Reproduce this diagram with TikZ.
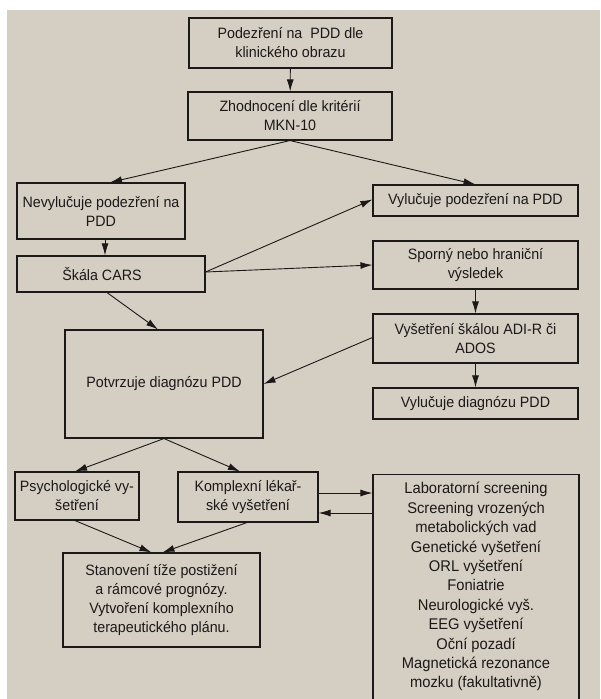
\documentclass[tikz,border=0pt]{standalone}
\usepackage{fontspec}
\setmainfont[FakeStretch=0.95]{Liberation Sans}
\usetikzlibrary{arrows.meta,calc}
\definecolor{paper}{RGB}{213,206,195}
\definecolor{ink}{RGB}{26,25,24}
\begin{document}
\begin{tikzpicture}[x=1pt,y=-1pt,
  box/.style={draw=ink, line width=1.1pt, align=center, inner sep=0pt,
    font=\fontsize{15}{19}\selectfont, text=ink},
  arr/.style={draw=ink, line width=0.9pt, -{Latex[length=12pt,width=7pt]}}]
\fill[white] (0,0) rectangle (600,699);
\fill[paper] (7,10) rectangle (600,699);
\useasboundingbox (0,0) rectangle (600,699);

\node[box, minimum width=203pt, minimum height=50pt] (b1) at (290.5,43)
  {Podezření na\ \ PDD dle\\klinického obrazu};
\node[box, minimum width=204pt, minimum height=48pt] (b2) at (290,116)
  {Zhodnocení dle kritérií\\MKN-10};
\node[box, minimum width=168pt, minimum height=56pt] (b3) at (101,211)
  {Nevylučuje podezření na\\PDD};
\node[box, minimum width=205pt, minimum height=31pt] (b4) at (475.5,200.5)
  {Vylučuje podezření na PDD};
\node[box, minimum width=188pt, minimum height=36pt] (b5) at (111,274)
  {Škála CARS\hspace*{18pt}};
\node[box, minimum width=205pt, minimum height=48pt] (b6) at (475.5,265)
  {Sporný nebo hraniční\\výsledek};
\node[box, minimum width=205pt, minimum height=49pt] (b7) at (475.5,338.5)
  {Vyšetření škálou ADI-R či\\ADOS};
\node[box, minimum width=205pt, minimum height=31pt] (b8) at (475.5,403.5)
  {Vylučuje diagnózu PDD};
\node[box, minimum width=198pt, minimum height=108pt] (b9) at (164,384)
  {Potvrzuje diagnózu PDD};
\node[box, minimum width=124pt, minimum height=48pt] (b10) at (77,496)
  {Psychologické vy-\\šetření};
\node[box, minimum width=140pt, minimum height=50pt] (b11) at (248,497)
  {Komplexní lékař-\\ské vyšetření};
\node[box, minimum width=206pt, inner ysep=8pt, anchor=north,
  font=\fontsize{15.5}{19.4}\selectfont] (b12) at (476,474)
  {Laboratorní screening\\Screening vrozených\\metabolických vad\\Genetické vyšetření\\ORL vyšetření\\Foniatrie\\Neurologické vyš.\\EEG vyšetření\\Oční pozadí\\Magnetická rezonance\\mozku (fakultativně)\\\rule{0pt}{30pt}};
\node[box, minimum width=197pt, minimum height=94pt] (b13) at (161.5,600)
  {Stanovení tíže postižení\\a rámcové prognózy.\\Vytvoření komplexního\\terapeutického plánu.};

\draw[arr] (b1) -- (b2);
\draw[arr] (b2.south) -- ([xshift=9pt]b3.north);
\draw[arr] (b2.south) -- (b4.north);
\draw[arr] ([xshift=4pt]b3.south) -- ([xshift=4pt]b3.south |- b5.north);
\draw[arr] ([yshift=2pt]b5.east) -- ([yshift=1pt]b4.west);
\draw[arr] ([yshift=2pt]b5.east) -- (b6.west);
\draw[arr] ([xshift=-4pt]b5.south) -- ([xshift=-6pt]b9.north);
\draw[arr] (b6) -- (b7);
\draw[arr] ([yshift=1pt]b7.west) -- (b9.east);
\draw[arr] (b7) -- (b8);
\draw[arr] (b9.south) -- ([xshift=-2pt]b10.north);
\draw[arr] (b9.south) -- ([xshift=-8pt]b11.north);
\draw[arr] ([yshift=4pt]b11.east) -- ([yshift=4pt]b11.east -| b12.west);
\draw[arr] ([yshift=-16pt]b11.east -| b12.west) -- ([yshift=-16pt]b11.east);
\draw[arr] ([xshift=-2pt]b10.south) -- ([xshift=-10pt]b13.north);
\draw[arr] ([xshift=-1pt]b11.south) -- ([xshift=1pt]b13.north);
\end{tikzpicture}
\end{document}
